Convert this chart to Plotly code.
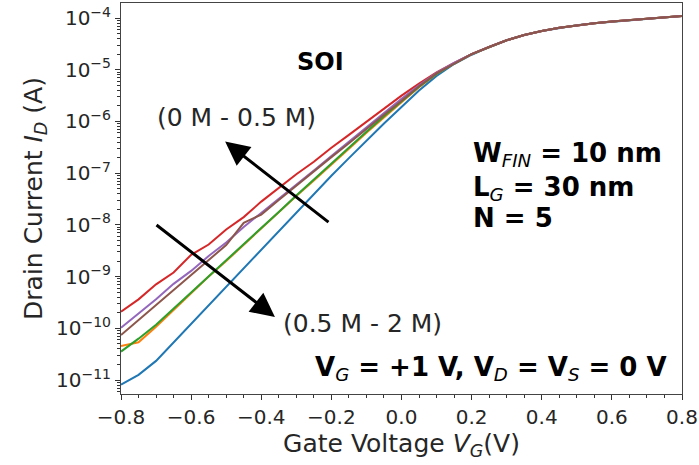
import plotly.graph_objects as go

# Gate voltage grid (V)
vg = [-0.80, -0.75, -0.70, -0.65, -0.60, -0.55, -0.50, -0.45, -0.40, -0.35,
      -0.30, -0.25, -0.20, -0.15, -0.10, -0.05, 0.00, 0.05, 0.10, 0.15,
      0.20, 0.25, 0.30, 0.35, 0.40, 0.45, 0.50, 0.55, 0.60, 0.65, 0.70, 0.75, 0.80]

# log10 of drain current (A)
log_blue = [-11.09, -10.90, -10.63, -10.27, -9.91, -9.55, -9.19, -8.84, -8.48, -8.12,
            -7.76, -7.40, -7.05, -6.71, -6.37, -6.04, -5.72, -5.40, -5.12, -4.89,
            -4.71, -4.56, -4.43, -4.33, -4.25, -4.19, -4.14, -4.10, -4.07, -4.04, -4.01, -3.98, -3.96]
log_orange = [-10.34, -10.27, -9.97, -9.64, -9.32, -9.00, -8.70, -8.38, -8.06, -7.74,
              -7.44, -7.14, -6.84, -6.53, -6.22, -5.92, -5.63, -5.34, -5.08, -4.88,
              -4.70, -4.56, -4.43, -4.33, -4.25, -4.19, -4.14, -4.10, -4.07, -4.04, -4.01, -3.98, -3.96]
log_green = [-10.45, -10.20, -9.93, -9.62, -9.31, -9.00, -8.69, -8.38, -8.07, -7.75,
             -7.43, -7.12, -6.81, -6.50, -6.20, -5.90, -5.62, -5.33, -5.08, -4.88,
             -4.70, -4.56, -4.43, -4.33, -4.25, -4.19, -4.14, -4.10, -4.07, -4.04, -4.01, -3.98, -3.96]
log_red = [-9.68, -9.44, -9.15, -8.92, -8.58, -8.38, -8.09, -7.85, -7.55, -7.29,
           -7.02, -6.78, -6.51, -6.26, -6.01, -5.76, -5.50, -5.27, -5.05, -4.87,
           -4.70, -4.56, -4.43, -4.33, -4.25, -4.19, -4.14, -4.10, -4.07, -4.04, -4.01, -3.98, -3.96]
log_purple = [-9.99, -9.71, -9.44, -9.14, -8.89, -8.60, -8.34, -8.04, -7.77, -7.49,
              -7.22, -6.95, -6.67, -6.39, -6.12, -5.84, -5.56, -5.30, -5.06, -4.87,
              -4.70, -4.56, -4.43, -4.33, -4.25, -4.19, -4.14, -4.10, -4.07, -4.04, -4.01, -3.98, -3.96]
log_brown = [-10.13, -9.84, -9.55, -9.26, -8.97, -8.68, -8.39, -7.96, -7.80, -7.52,
             -7.24, -6.96, -6.69, -6.42, -6.14, -5.87, -5.60, -5.32, -5.07, -4.88,
             -4.70, -4.56, -4.43, -4.33, -4.25, -4.19, -4.14, -4.10, -4.07, -4.04, -4.01, -3.98, -3.96]

series = [
    ("blue", log_blue, "#1f77b4"),
    ("orange", log_orange, "#ff7f0e"),
    ("green", log_green, "#2ca02c"),
    ("red", log_red, "#d62728"),
    ("purple", log_purple, "#9467bd"),
    ("brown", log_brown, "#8c564b"),
]

y_exponents = [-11, -10, -9, -8, -7, -6, -5, -4]
x_ticks = [-0.8, -0.6, -0.4, -0.2, 0.0, 0.2, 0.4, 0.6, 0.8]

FONT = "DejaVu Sans"
TXT = "#262626"

fig = go.Figure()
for name, vals, col in series:
    fig.add_trace(go.Scatter(x=vg, y=[10 ** v for v in vals], mode="lines",
                             name=name, line=dict(color=col, width=2),
                             showlegend=False))

minor_y = [k * 10.0 ** e for e in range(-12, -3) for k in range(2, 10)]

fig.update_layout(
    width=699, height=465,
    margin=dict(l=121, r=17, t=3, b=71),
    paper_bgcolor="white", plot_bgcolor="white",
    font=dict(family=FONT, color=TXT, size=20),
    xaxis=dict(
        range=[-0.8, 0.8], tickvals=x_ticks, automargin=False,
        ticktext=[("−%.1f" % abs(t)) if t < 0 else "%.1f" % t for t in x_ticks],
        ticks="outside", ticklen=5, tickwidth=1, tickcolor="#333",
        showline=True, linecolor="#444", linewidth=1, mirror=True,
        showgrid=False, zeroline=False,
        tickfont=dict(size=20, family=FONT, color=TXT),
        minor=dict(dtick=0.05, tick0=-0.8, ticks="outside", ticklen=3, tickcolor="#333"),
        title=dict(text="Gate Voltage <i>V</i><sub><i>G</i></sub>(V)",
                   font=dict(size=25, family=FONT, color=TXT), standoff=4),
    ),
    yaxis=dict(
        type="log", range=[-11.27, -3.71], automargin=False,
        tickvals=[10.0 ** e for e in y_exponents],
        ticktext=["10<sup>−%d</sup>" % abs(e) for e in y_exponents],
        ticks="outside", ticklen=5, tickwidth=1, tickcolor="#333",
        showline=True, linecolor="#444", linewidth=1, mirror=True,
        showgrid=False, zeroline=False,
        tickfont=dict(size=20, family=FONT, color=TXT),
        minor=dict(tickmode="array", tickvals=minor_y, ticks="outside", ticklen=3, tickcolor="#333"),
        title=dict(text="Drain Current <i>I</i><sub><i>D</i></sub> (A)",
                   font=dict(size=25, family=FONT, color=TXT), standoff=6),
    ),
)

# Text annotations
fig.add_annotation(x=-0.232, y=-4.85, text="<b>SOI</b>", showarrow=False,
                   font=dict(size=24, family=FONT, color="black"))
fig.add_annotation(x=-0.472, y=-5.93, text="(0 M - 0.5 M)", showarrow=False,
                   font=dict(size=25, family=FONT, color=TXT))
fig.add_annotation(x=-0.345, y=-9.90, text="(0.5 M - 2 M)", showarrow=False,
                   xanchor="left", font=dict(size=25, family=FONT, color=TXT))
for txt, yy in [("<b>W</b><sub><i>FIN</i></sub><b> = 10 nm</b>", -6.64),
                ("<b>L</b><sub><i>G</i></sub><b> = 30 nm</b>", -7.29),
                ("<b>N = 5</b>", -7.87)]:
    fig.add_annotation(x=0.199, y=yy, text=txt, showarrow=False, xanchor="left",
                       font=dict(size=26, family=FONT, color="black"))
fig.add_annotation(x=0.762, y=-10.77,
                   text="<b>V</b><sub><i>G</i></sub><b> = +1 V, V</b><sub><i>D</i></sub>"
                        "<b> = V</b><sub><i>S</i></sub><b> = 0 V</b>",
                   showarrow=False, xanchor="right",
                   font=dict(size=26, family=FONT, color="black"))

# Arrows (head at x,y; tail at ax,ay)
fig.add_annotation(x=-0.503, y=-6.39, ax=-0.204, ay=-7.97, xref="x", yref="y",
                   axref="x", ayref="y", text="", showarrow=True,
                   arrowhead=2, arrowsize=1.6, arrowwidth=3, arrowcolor="black")
fig.add_annotation(x=-0.361, y=-9.78, ax=-0.703, ay=-7.98, xref="x", yref="y",
                   axref="x", ayref="y", text="", showarrow=True,
                   arrowhead=2, arrowsize=1.6, arrowwidth=3, arrowcolor="black")

fig.write_html("out.html", config={"displayModeBar": False},
               post_script="document.body.style.margin='0';document.body.style.padding='0';")
